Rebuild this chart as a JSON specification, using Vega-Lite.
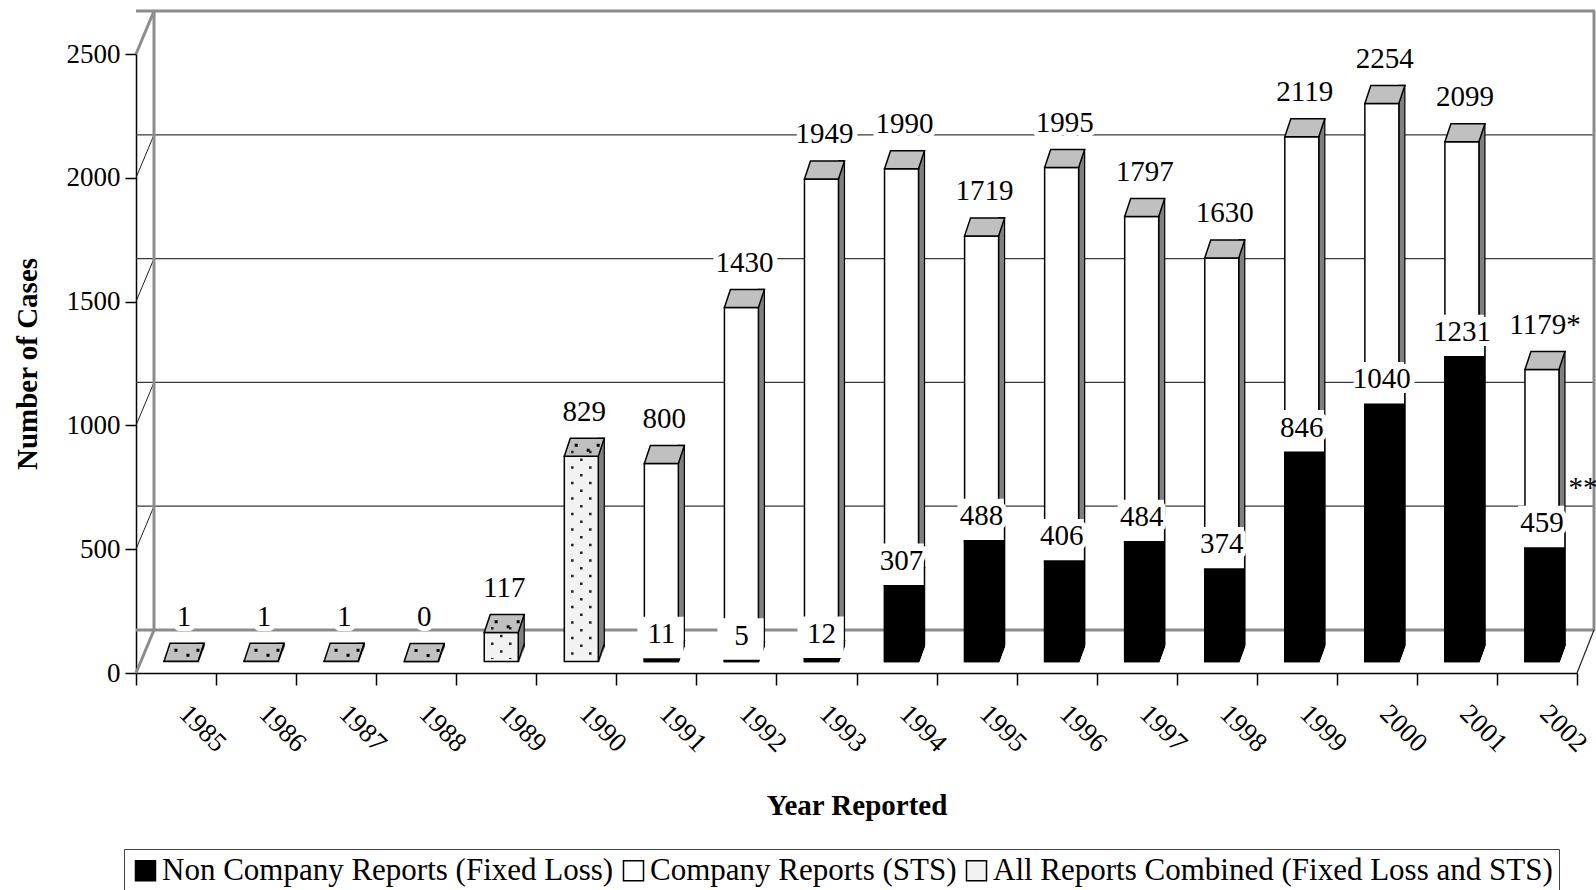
{
  "$schema": "https://vega.github.io/schema/vega-lite/v6.json",
  "width": 1441,
  "height": 619,
  "autosize": {"type": "none"},
  "padding": {"left": 136, "top": 54, "right": 19, "bottom": 217},
  "background": "white",
  "config": {
    "view": {"stroke": null},
    "font": "Liberation Serif",
    "axis": {"labelFont": "Liberation Serif", "titleFont": "Liberation Serif", "labelColor": "black", "titleColor": "black", "grid": false, "domainColor": "black", "tickColor": "black"},
    "axisX": {"labelAngle": 45, "labelFontSize": 27, "titleFontSize": 29, "titleFontWeight": "bold", "tickBand": "extent", "tickSize": 12, "tickWidth": 1.5, "domainWidth": 1.5, "labelPadding": 15, "labelOffset": 16, "titlePadding": 35, "labelAlign": "left", "labelBaseline": "top"},
    "axisY": {"labelFontSize": 27, "titleFontSize": 29, "titleFontWeight": "bold", "tickSize": 11, "tickWidth": 1.5, "domainWidth": 1.5, "labelPadding": 5, "titlePadding": 24, "format": "d"}
  },
  "datasets": {
    "bars": [
      {"year": "1985", "series": "All Reports Combined (Fixed Loss and STS)", "value": 1, "label": "1"},
      {"year": "1986", "series": "All Reports Combined (Fixed Loss and STS)", "value": 1, "label": "1"},
      {"year": "1987", "series": "All Reports Combined (Fixed Loss and STS)", "value": 1, "label": "1"},
      {"year": "1988", "series": "All Reports Combined (Fixed Loss and STS)", "value": 0, "label": "0"},
      {"year": "1989", "series": "All Reports Combined (Fixed Loss and STS)", "value": 117, "label": "117"},
      {"year": "1990", "series": "All Reports Combined (Fixed Loss and STS)", "value": 829, "label": "829"},
      {"year": "1991", "series": "Company Reports (STS)", "value": 800, "label": "800"},
      {"year": "1992", "series": "Company Reports (STS)", "value": 1430, "label": "1430"},
      {"year": "1993", "series": "Company Reports (STS)", "value": 1949, "label": "1949"},
      {"year": "1994", "series": "Company Reports (STS)", "value": 1990, "label": "1990"},
      {"year": "1995", "series": "Company Reports (STS)", "value": 1719, "label": "1719"},
      {"year": "1996", "series": "Company Reports (STS)", "value": 1995, "label": "1995"},
      {"year": "1997", "series": "Company Reports (STS)", "value": 1797, "label": "1797"},
      {"year": "1998", "series": "Company Reports (STS)", "value": 1630, "label": "1630"},
      {"year": "1999", "series": "Company Reports (STS)", "value": 2119, "label": "2119"},
      {"year": "2000", "series": "Company Reports (STS)", "value": 2254, "label": "2254"},
      {"year": "2001", "series": "Company Reports (STS)", "value": 2099, "label": "2099"},
      {"year": "2002", "series": "Company Reports (STS)", "value": 1179, "label": "1179*"},
      {"year": "1991", "series": "Non Company Reports (Fixed Loss)", "value": 11, "label": "11"},
      {"year": "1992", "series": "Non Company Reports (Fixed Loss)", "value": 5, "label": "5"},
      {"year": "1993", "series": "Non Company Reports (Fixed Loss)", "value": 12, "label": "12"},
      {"year": "1994", "series": "Non Company Reports (Fixed Loss)", "value": 307, "label": "307"},
      {"year": "1995", "series": "Non Company Reports (Fixed Loss)", "value": 488, "label": "488"},
      {"year": "1996", "series": "Non Company Reports (Fixed Loss)", "value": 406, "label": "406"},
      {"year": "1997", "series": "Non Company Reports (Fixed Loss)", "value": 484, "label": "484"},
      {"year": "1998", "series": "Non Company Reports (Fixed Loss)", "value": 374, "label": "374"},
      {"year": "1999", "series": "Non Company Reports (Fixed Loss)", "value": 846, "label": "846"},
      {"year": "2000", "series": "Non Company Reports (Fixed Loss)", "value": 1040, "label": "1040"},
      {"year": "2001", "series": "Non Company Reports (Fixed Loss)", "value": 1231, "label": "1231"},
      {"year": "2002", "series": "Non Company Reports (Fixed Loss)", "value": 459, "label": "459"}
    ],
    "grid": [
      {"v": 0, "kind": "edge"},
      {"v": 500, "kind": "inner"},
      {"v": 1000, "kind": "inner"},
      {"v": 1500, "kind": "inner"},
      {"v": 2000, "kind": "inner"},
      {"v": 2500, "kind": "edge"}
    ]
  },
  "layer": [
    {
      "data": {"name": "grid"},
      "transform": [{"filter": "datum.kind === 'inner'"}],
      "mark": {"type": "rule", "color": "#3a3a3a", "strokeWidth": 1.2, "xOffset": 18, "x2Offset": 18, "yOffset": -43, "y2Offset": -43},
      "encoding": {
        "y": {"field": "v", "type": "quantitative", "title": "Number of Cases", "scale": {"domain": [0, 2500], "nice": false}, "axis": {"values": [0, 500, 1000, 1500, 2000, 2500]}}
      }
    },
    {
      "data": {"name": "grid"},
      "transform": [{"filter": "datum.kind === 'edge'"}],
      "mark": {"type": "rule", "color": "#8c8c8c", "strokeWidth": 3, "xOffset": 18, "x2Offset": 18, "yOffset": -43, "y2Offset": -43},
      "encoding": {
        "y": {"field": "v", "type": "quantitative", "title": "Number of Cases"}
      }
    },
    {
      "data": {"name": "grid"},
      "transform": [{"filter": "datum.kind === 'inner'"}],
      "mark": {"type": "rule", "color": "#222222", "strokeWidth": 1, "x2Offset": 18, "y2Offset": -43},
      "encoding": {
        "x": {"datum": "1985", "type": "ordinal", "bandPosition": 0, "title": "Year Reported"},
        "x2": {"datum": "1985", "bandPosition": 0},
        "y": {"field": "v", "type": "quantitative", "title": "Number of Cases"},
        "y2": {"field": "v"}
      }
    },
    {
      "data": {"name": "grid"},
      "transform": [{"filter": "datum.kind === 'edge'"}],
      "mark": {"type": "rule", "color": "#8c8c8c", "strokeWidth": 3, "x2Offset": 18, "y2Offset": -43},
      "encoding": {
        "x": {"datum": "1985", "type": "ordinal", "bandPosition": 0, "title": "Year Reported"},
        "x2": {"datum": "1985", "bandPosition": 0},
        "y": {"field": "v", "type": "quantitative", "title": "Number of Cases"},
        "y2": {"field": "v"}
      }
    },
    {
      "data": {"values": [{}]},
      "mark": {"type": "rule", "color": "#8c8c8c", "strokeWidth": 3, "xOffset": 18, "yOffset": -43, "y2Offset": -43},
      "encoding": {
        "x": {"datum": "1985", "type": "ordinal", "bandPosition": 0, "title": "Year Reported"},
        "y": {"datum": 0, "type": "quantitative", "title": "Number of Cases"},
        "y2": {"datum": 2500}
      }
    },
    {
      "data": {"values": [{}]},
      "mark": {"type": "rule", "color": "#8c8c8c", "strokeWidth": 3, "xOffset": 17, "yOffset": -43, "y2Offset": -43},
      "encoding": {
        "x": {"datum": "2002", "type": "ordinal", "bandPosition": 1, "title": "Year Reported"},
        "y": {"datum": 0, "type": "quantitative", "title": "Number of Cases"},
        "y2": {"datum": 2500}
      }
    },
    {
      "data": {"values": [{}]},
      "mark": {"type": "rule", "color": "#222222", "strokeWidth": 1.2, "x2Offset": 17, "y2Offset": -43},
      "encoding": {
        "x": {"datum": "2002", "type": "ordinal", "bandPosition": 1, "title": "Year Reported"},
        "x2": {"datum": "2002", "bandPosition": 1},
        "y": {"datum": 0, "type": "quantitative", "title": "Number of Cases"},
        "y2": {"datum": 0}
      }
    },
    {
      "data": {"name": "bars"},
      "transform": [{"filter": "datum.series !== 'Non Company Reports (Fixed Loss)'"}],
      "mark": {"type": "bar", "fill": "#808080", "stroke": "black", "strokeWidth": 1.2, "size": 6, "xOffset": 25, "yOffset": -29.5, "y2Offset": -11.5},
      "encoding": {
        "x": {"field": "year", "type": "ordinal", "title": "Year Reported", "scale": {"paddingInner": 0, "paddingOuter": 0}},
        "y": {"field": "value", "type": "quantitative", "title": "Number of Cases", "stack": null},
        "y2": {"datum": 0}
      }
    },
    {
      "data": {"name": "bars"},
      "transform": [{"filter": "datum.series !== 'Non Company Reports (Fixed Loss)'"}],
      "mark": {"type": "bar", "stroke": "black", "strokeWidth": 1.5, "size": 34, "xOffset": 5, "yOffset": -11.5, "y2Offset": -11.5, "opacity": 1},
      "encoding": {
        "x": {"field": "year", "type": "ordinal", "title": "Year Reported"},
        "y": {"field": "value", "type": "quantitative", "title": "Number of Cases", "stack": null},
        "y2": {"datum": 0},
        "color": {
          "field": "series", "type": "nominal",
          "scale": {"domain": ["Non Company Reports (Fixed Loss)", "Company Reports (STS)", "All Reports Combined (Fixed Loss and STS)"], "range": ["black", "white", "#f2f2f2"]},
          "legend": {"orient": "none", "legendX": -12, "legendY": 795, "direction": "horizontal", "title": null, "labelFont": "Liberation Serif", "labelFontSize": 31, "labelColor": "black", "labelLimit": 0, "symbolType": "square", "symbolSize": 400, "symbolStrokeColor": "black", "symbolStrokeWidth": 1.5, "symbolOpacity": 1, "strokeColor": "#444444", "padding": 6, "columnPadding": 4, "labelOffset": 1}
        }
      }
    },
    {
      "data": {"name": "bars"},
      "transform": [{"filter": "datum.series !== 'Non Company Reports (Fixed Loss)'"}],
      "mark": {"type": "point", "shape": "M-0.85,0L0.85,0L1.15,-0.9L-0.55,-0.9Z", "size": 1600, "filled": true, "fill": "#c0c0c0", "stroke": "black", "strokeWidth": 1.5, "opacity": 1, "xOffset": 5, "yOffset": -11.5},
      "encoding": {
        "x": {"field": "year", "type": "ordinal", "title": "Year Reported"},
        "y": {"field": "value", "type": "quantitative", "title": "Number of Cases"}
      }
    },
    {
      "data": {"name": "bars"},
      "transform": [{"filter": "datum.series === 'All Reports Combined (Fixed Loss and STS)'"}],
      "mark": {"type": "point", "shape": "M-0.33,-0.62h0.15v0.15h-0.15Z M0.27,-0.37h0.15v0.15h-0.15Z M0.77,-0.62h0.15v0.15h-0.15Z", "size": 1600, "filled": true, "fill": "black", "strokeWidth": 0, "opacity": 1, "xOffset": 5, "yOffset": -11.5},
      "encoding": {
        "x": {"field": "year", "type": "ordinal", "title": "Year Reported"},
        "y": {"field": "value", "type": "quantitative", "title": "Number of Cases"}
      }
    },
    {
      "data": {"name": "bars"},
      "transform": [{"filter": "datum.series === 'All Reports Combined (Fixed Loss and STS)' && datum.value > 50"}],
      "mark": {"type": "rule", "color": "#222222", "strokeWidth": 2.5, "strokeDash": [2.5, 13], "xOffset": -4, "yOffset": -17, "y2Offset": -14},
      "encoding": {
        "x": {"field": "year", "type": "ordinal", "title": "Year Reported"},
        "y": {"field": "value", "type": "quantitative", "title": "Number of Cases"},
        "y2": {"datum": 0}
      }
    },
    {
      "data": {"name": "bars"},
      "transform": [{"filter": "datum.series === 'All Reports Combined (Fixed Loss and STS)' && datum.value > 50"}],
      "mark": {"type": "rule", "color": "#222222", "strokeWidth": 2.5, "strokeDash": [2.5, 13], "strokeDashOffset": 7.75, "xOffset": 5, "yOffset": -17, "y2Offset": -14},
      "encoding": {
        "x": {"field": "year", "type": "ordinal", "title": "Year Reported"},
        "y": {"field": "value", "type": "quantitative", "title": "Number of Cases"},
        "y2": {"datum": 0}
      }
    },
    {
      "data": {"name": "bars"},
      "transform": [{"filter": "datum.series === 'All Reports Combined (Fixed Loss and STS)' && datum.value > 50"}],
      "mark": {"type": "rule", "color": "#222222", "strokeWidth": 2.5, "strokeDash": [2.5, 13], "xOffset": 14, "yOffset": -17, "y2Offset": -14},
      "encoding": {
        "x": {"field": "year", "type": "ordinal", "title": "Year Reported"},
        "y": {"field": "value", "type": "quantitative", "title": "Number of Cases"},
        "y2": {"datum": 0}
      }
    },
    {
      "data": {"name": "bars"},
      "transform": [{"filter": "datum.series === 'Non Company Reports (Fixed Loss)'"}],
      "mark": {"type": "bar", "fill": "black", "stroke": "black", "strokeWidth": 1.2, "size": 6, "xOffset": 25, "yOffset": -29.5, "y2Offset": -11.5},
      "encoding": {
        "x": {"field": "year", "type": "ordinal", "title": "Year Reported"},
        "y": {"field": "value", "type": "quantitative", "title": "Number of Cases", "stack": null},
        "y2": {"datum": 0}
      }
    },
    {
      "data": {"name": "bars"},
      "transform": [{"filter": "datum.series === 'Non Company Reports (Fixed Loss)'"}],
      "mark": {"type": "bar", "stroke": "black", "strokeWidth": 1.5, "size": 34, "xOffset": 5, "yOffset": -11.5, "y2Offset": -11.5, "opacity": 1},
      "encoding": {
        "x": {"field": "year", "type": "ordinal", "title": "Year Reported"},
        "y": {"field": "value", "type": "quantitative", "title": "Number of Cases", "stack": null},
        "y2": {"datum": 0},
        "color": {"field": "series", "type": "nominal"}
      }
    },
    {
      "data": {"name": "bars"},
      "transform": [{"filter": "datum.series === 'Non Company Reports (Fixed Loss)'"}],
      "mark": {"type": "point", "shape": "M-0.85,0L0.85,0L1.15,-0.9L-0.55,-0.9Z", "size": 1600, "filled": true, "fill": "black", "stroke": "black", "strokeWidth": 1.5, "opacity": 1, "xOffset": 5, "yOffset": -11.5},
      "encoding": {
        "x": {"field": "year", "type": "ordinal", "title": "Year Reported"},
        "y": {"field": "value", "type": "quantitative", "title": "Number of Cases"}
      }
    },
    {
      "data": {"name": "bars"},
      "mark": {"type": "point", "shape": "M0.89,0.05L1.25,0.05L1.25,-0.92Z", "size": 1600, "filled": true, "fill": "white", "strokeWidth": 0, "opacity": 1, "xOffset": 5, "yOffset": -11.5},
      "encoding": {
        "x": {"field": "year", "type": "ordinal", "title": "Year Reported"},
        "y": {"datum": 0, "type": "quantitative", "title": "Number of Cases"}
      }
    },
    {
      "data": {"name": "bars"},
      "transform": [{"filter": "datum.series !== 'Non Company Reports (Fixed Loss)'"}],
      "mark": {"type": "point", "shape": "M0.85,0L1.15,-0.9", "size": 1600, "filled": false, "stroke": "black", "strokeWidth": 1.2, "opacity": 1, "xOffset": 5, "yOffset": -11.5},
      "encoding": {
        "x": {"field": "year", "type": "ordinal", "title": "Year Reported"},
        "y": {"datum": 0, "type": "quantitative", "title": "Number of Cases"}
      }
    },
    {
      "data": {"name": "bars"},
      "transform": [{"filter": "datum.series === 'Non Company Reports (Fixed Loss)'"}],
      "mark": {"type": "point", "shape": "M-0.8,-1.4L0.74,-1.4L0.74,-0.02L-0.8,-0.02Z", "size": 3600, "filled": true, "fill": "white", "strokeWidth": 0, "opacity": 1, "xOffset": 5, "yOffset": -11.5},
      "encoding": {
        "x": {"field": "year", "type": "ordinal", "title": "Year Reported"},
        "y": {"field": "value", "type": "quantitative", "title": "Number of Cases"}
      }
    },
    {
      "data": {"name": "bars"},
      "transform": [{"filter": "datum.series !== 'Non Company Reports (Fixed Loss)'"}],
      "mark": {"type": "text", "font": "Liberation Serif", "fontSize": 29, "align": "center", "baseline": "alphabetic", "dx": 8, "dy": -47, "fill": "white", "stroke": "white", "strokeWidth": 10, "strokeJoin": "round"},
      "encoding": {
        "x": {"field": "year", "type": "ordinal", "title": "Year Reported"},
        "y": {"field": "value", "type": "quantitative", "title": "Number of Cases"},
        "text": {"field": "label"}
      }
    },
    {
      "data": {"name": "bars"},
      "transform": [{"filter": "datum.series !== 'Non Company Reports (Fixed Loss)'"}],
      "mark": {"type": "text", "font": "Liberation Serif", "fontSize": 29, "align": "center", "baseline": "alphabetic", "dx": 8, "dy": -47, "fill": "black"},
      "encoding": {
        "x": {"field": "year", "type": "ordinal", "title": "Year Reported"},
        "y": {"field": "value", "type": "quantitative", "title": "Number of Cases"},
        "text": {"field": "label"}
      }
    },
    {
      "data": {"name": "bars"},
      "transform": [{"filter": "datum.series === 'Non Company Reports (Fixed Loss)'"}],
      "mark": {"type": "text", "font": "Liberation Serif", "fontSize": 29, "align": "center", "baseline": "alphabetic", "dx": 5, "dy": -27, "fill": "white", "stroke": "white", "strokeWidth": 10, "strokeJoin": "round"},
      "encoding": {
        "x": {"field": "year", "type": "ordinal", "title": "Year Reported"},
        "y": {"field": "value", "type": "quantitative", "title": "Number of Cases"},
        "text": {"field": "label"}
      }
    },
    {
      "data": {"name": "bars"},
      "transform": [{"filter": "datum.series === 'Non Company Reports (Fixed Loss)'"}],
      "mark": {"type": "text", "font": "Liberation Serif", "fontSize": 29, "align": "center", "baseline": "alphabetic", "dx": 5, "dy": -27, "fill": "black"},
      "encoding": {
        "x": {"field": "year", "type": "ordinal", "title": "Year Reported"},
        "y": {"field": "value", "type": "quantitative", "title": "Number of Cases"},
        "text": {"field": "label"}
      }
    },
    {
      "data": {"name": "bars"},
      "transform": [{"filter": "datum.series === 'Non Company Reports (Fixed Loss)' && datum.year === '2002'"}],
      "mark": {"type": "text", "font": "Liberation Serif", "fontSize": 29, "align": "center", "baseline": "alphabetic", "dx": 46, "dy": -62, "fill": "black", "text": "**"},
      "encoding": {
        "x": {"field": "year", "type": "ordinal", "title": "Year Reported"},
        "y": {"field": "value", "type": "quantitative", "title": "Number of Cases"}
      }
    }
  ]
}
